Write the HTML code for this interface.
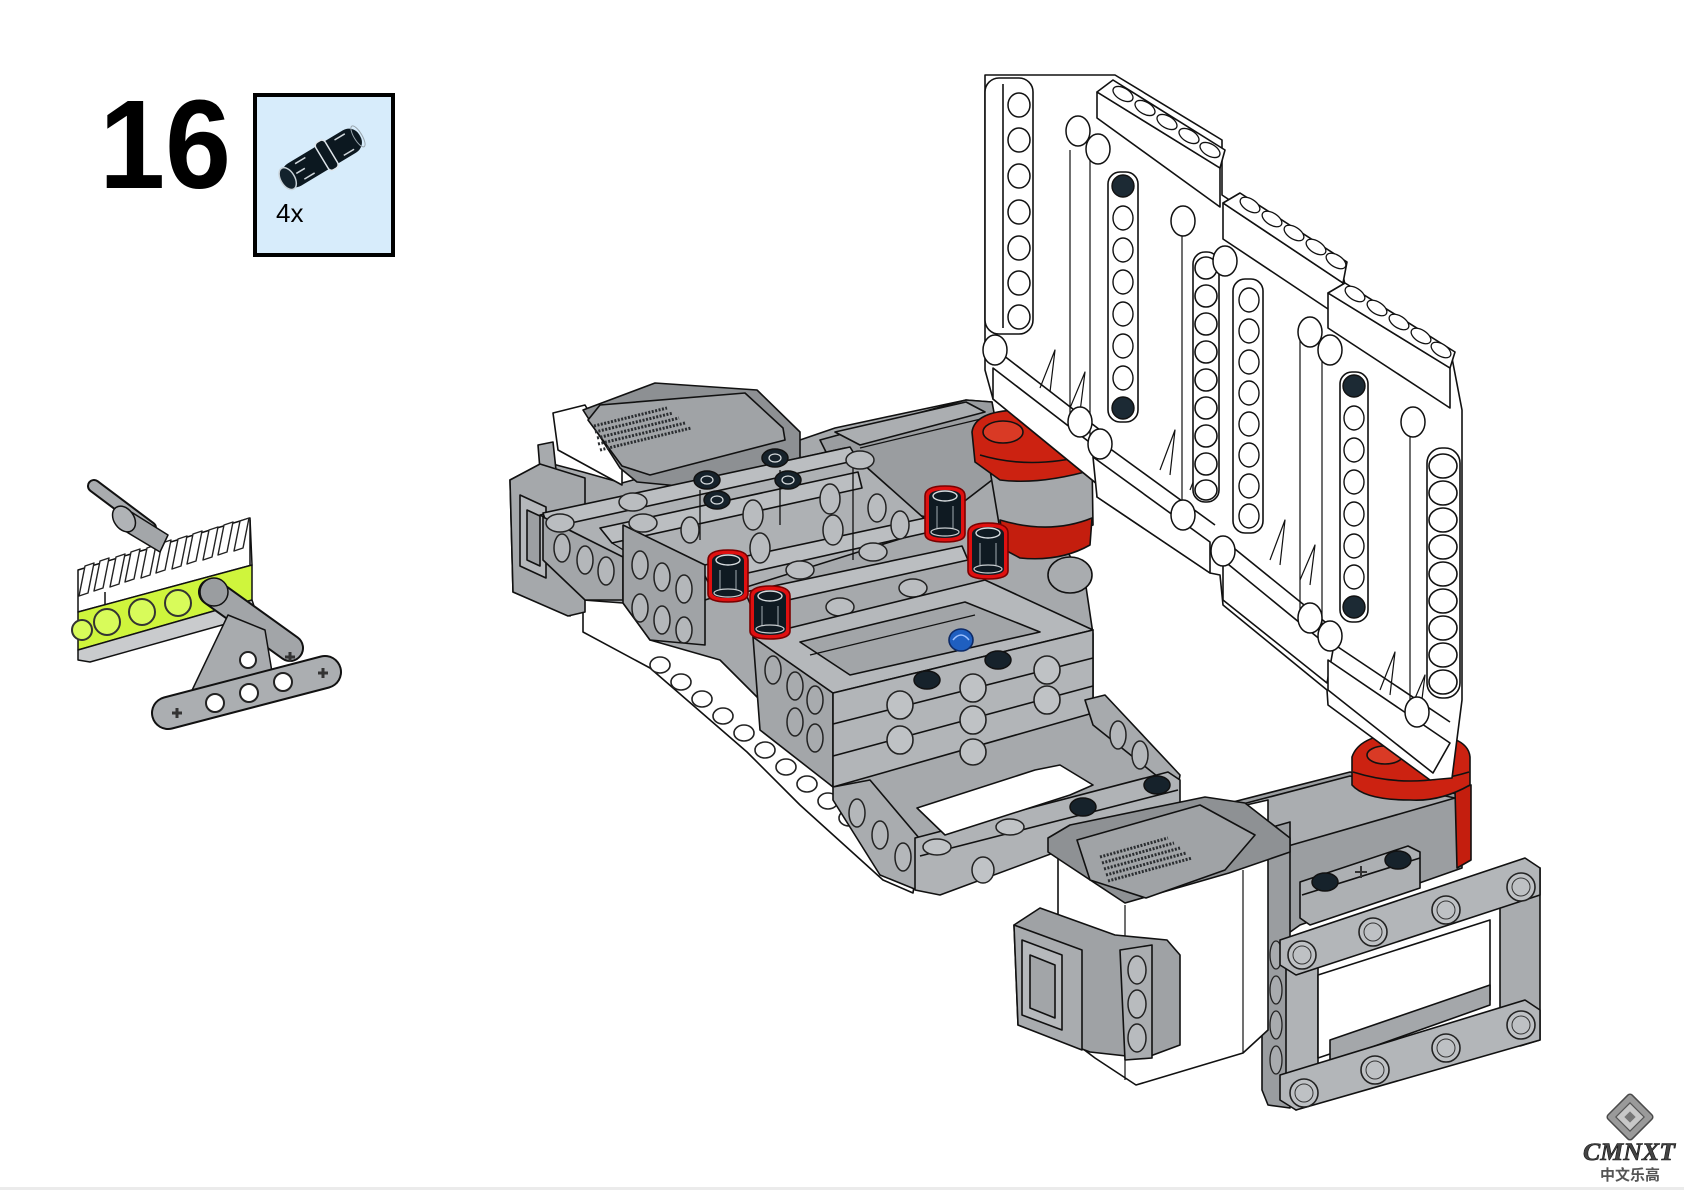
<!DOCTYPE html>
<html><head><meta charset="utf-8">
<style>
html,body{margin:0;padding:0;background:#fff;}
svg{display:block;}
</style></head>
<body>
<svg width="1684" height="1190" viewBox="0 0 1684 1190" xmlns="http://www.w3.org/2000/svg">
<rect width="1684" height="1190" fill="#fff"/>
<rect x="0" y="1187" width="1684" height="3" fill="#ebebeb"/>

<!-- ===== HEADER ===== -->
<text x="-4" y="0" transform="translate(103,188) scale(0.94,1)" font-family="'Liberation Sans', Arial, sans-serif" font-weight="bold" font-size="126" fill="#000">16</text>
<rect x="255" y="95" width="138" height="160" fill="#d7ecfb" stroke="#000" stroke-width="4"/>
<g transform="translate(322,158) rotate(-31)">
  <rect x="-44" y="-13" width="88" height="26" rx="12" fill="#0c1820"/>
  <ellipse cx="-40" cy="0" rx="7" ry="12" fill="#13222c" stroke="#c9d2d8" stroke-width="1.5"/>
  <rect x="0" y="-16" width="11" height="32" rx="4" fill="#0c1820" stroke="#dfe5ea" stroke-width="1.5"/>
  <path d="M-26,-9 L-14,-9 M-26,9 L-14,9 M20,-9 L32,-9 M20,9 L32,9 M-30,0 L-20,0" stroke="#cfd6db" stroke-width="1.5"/>
  <ellipse cx="42" cy="0" rx="4" ry="12" fill="none" stroke="#9aa6ae" stroke-width="1"/>
</g>
<text x="276" y="222" font-family="'Liberation Sans', Arial, sans-serif" font-size="26" fill="#000">4x</text>

<!-- ===== LEFT INSET ===== -->
<g stroke="#111" stroke-width="1.5" stroke-linejoin="round">
  <!-- rack -->
  <polygon points="78,570 250,518 252,565 78,612" fill="#fff"/>
  <g fill="#fff" stroke="#222" stroke-width="1.4">
    <polygon points="85,566 94,563 88,593 79,596"/>
    <polygon points="100,561 109,558 103,588 94,591"/>
    <polygon points="116,557 125,554 119,584 110,587"/>
    <polygon points="131,552 140,549 134,579 125,582"/>
    <polygon points="147,548 156,545 150,575 141,578"/>
    <polygon points="162,543 171,540 165,570 156,573"/>
    <polygon points="178,539 187,536 181,566 172,569"/>
    <polygon points="193,534 202,531 196,561 187,564"/>
    <polygon points="209,530 218,527 212,557 203,560"/>
    <polygon points="224,525 233,522 227,552 218,555"/>
    <polygon points="240,521 249,518 243,548 234,551"/>
  </g>
  <line x1="250" y1="520" x2="250" y2="566"/>
  <line x1="105" y1="592" x2="105" y2="606"/>
  <!-- axle -->
  <line x1="94" y1="486" x2="150" y2="528" stroke="#111" stroke-width="14" stroke-linecap="round"/>
  <line x1="94" y1="486" x2="150" y2="528" stroke="#a9acaf" stroke-width="10" stroke-linecap="round"/>
  <path d="M128,510 L168,535 L160,552 L120,528 Z" fill="#a3a6a9"/>
  <ellipse cx="124" cy="519" rx="10" ry="14" transform="rotate(-35 124 519)" fill="#b0b3b6"/>
  <!-- lime beam -->
  <polygon points="78,612 252,565 252,600 78,650" fill="#cff53c"/>
  <polygon points="78,650 252,600 256,612 240,620 90,662 78,660" fill="#c9cbcd"/>
  <g fill="#d8fb5a" stroke="#333" stroke-width="2">
    <circle cx="107" cy="622" r="13"/>
    <circle cx="142" cy="612" r="13"/>
    <circle cx="178" cy="603" r="13"/>
  </g>
  <circle cx="82" cy="630" r="10" fill="#d8fb5a" stroke="#333" stroke-width="2"/>
  <!-- pin -->
  <line x1="212" y1="592" x2="290" y2="648" stroke="#111" stroke-width="28" stroke-linecap="round"/>
  <line x1="212" y1="592" x2="290" y2="648" stroke="#a2a5a8" stroke-width="24" stroke-linecap="round"/>
  <circle cx="214" cy="592" r="14" fill="#9a9da0"/>
  <!-- triangle liftarm -->
  <polygon points="185,705 228,615 265,630 275,690" fill="#a8abae"/>
  <line x1="168" y1="713" x2="325" y2="672" stroke="#111" stroke-width="34" stroke-linecap="round"/>
  <line x1="168" y1="713" x2="325" y2="672" stroke="#abaeb1" stroke-width="30" stroke-linecap="round"/>
  <g fill="#fff" stroke="#222" stroke-width="2">
    <circle cx="215" cy="703" r="9"/>
    <circle cx="249" cy="693" r="9"/>
    <circle cx="283" cy="682" r="9"/>
    <circle cx="248" cy="660" r="8"/>
  </g>
  <path d="M172,713 h10 M177,708 v10 M318,673 h10 M323,668 v10 M285,657 h10 M290,652 v10" stroke="#333" stroke-width="3"/>
</g>

<!-- ===== MAIN ASSEMBLY ===== -->
<g stroke="#111" stroke-width="1.6" stroke-linejoin="round">

  <!-- long white beam -->
  <polygon points="583,598 625,603 700,640 800,720 920,845 913,893 883,880 800,805 747,752 650,668 583,632" fill="#fff"/>
  <g fill="#fff" stroke="#222" stroke-width="1.6">
    <ellipse cx="660" cy="665" rx="10" ry="8"/>
    <ellipse cx="681" cy="682" rx="10" ry="8"/>
    <ellipse cx="702" cy="699" rx="10" ry="8"/>
    <ellipse cx="723" cy="716" rx="10" ry="8"/>
    <ellipse cx="744" cy="733" rx="10" ry="8"/>
    <ellipse cx="765" cy="750" rx="10" ry="8"/>
    <ellipse cx="786" cy="767" rx="10" ry="8"/>
    <ellipse cx="807" cy="784" rx="10" ry="8"/>
    <ellipse cx="828" cy="801" rx="10" ry="8"/>
    <ellipse cx="849" cy="818" rx="10" ry="8"/>
    <ellipse cx="870" cy="835" rx="10" ry="8"/>
    <ellipse cx="891" cy="852" rx="10" ry="8"/>
  </g>

  <!-- gray backdrop -->
  <polygon points="510,480 545,462 583,472 622,483 700,462 800,440 835,428 966,400 992,402 1000,470 1010,540 1065,548 1085,580 1093,634 1093,713 1177,780 1177,795 937,893 917,890 917,850 833,787 790,750 760,700 720,660 650,640 623,603 583,600 570,616 513,592" fill="#a6a9ac"/>

  <!-- upper motor body -->
  <polygon points="820,440 966,400 992,402 1005,470 940,520 850,500" fill="#9a9da0"/>
  <polygon points="835,432 966,402 985,412 860,445" fill="#abaeb1"/>
  <path d="M860,448 L985,418" fill="none" stroke-width="1.2"/>

  <!-- red upper turntable -->
  <path d="M990,470 L1092,460 L1093,525 Q1050,540 1000,530 Z" fill="#a5a8ab"/>
  <path d="M1000,520 Q1050,535 1092,518 L1090,545 Q1060,562 1020,558 L1005,550 Z" fill="#c41e0e"/>
  <path d="M972,432 Q975,410 1022,410 Q1075,412 1088,440 L1092,470 Q1040,485 1000,480 L975,462 Z" fill="#cc2211"/>
  <ellipse cx="1003" cy="432" rx="20" ry="11" fill="#d93a25"/>
  <path d="M980,455 Q1030,470 1088,455" fill="none"/>

  <!-- lower motor body (right) -->
  <polygon points="1229,803 1350,772 1462,795 1462,868 1300,925 1286,935 1268,935 1268,830" fill="#9b9ea1"/>
  <polygon points="1235,806 1350,776 1455,798 1288,846" fill="#aaadb0"/>
  <!-- red lower turntable -->
  <polygon points="1455,790 1471,785 1471,860 1457,868" fill="#c41e0e"/>
  <path d="M1352,757 Q1360,733 1410,733 Q1468,733 1470,757 L1470,785 Q1440,802 1410,800 Q1365,800 1352,785 Z" fill="#cc2211"/>
  <ellipse cx="1385" cy="755" rx="18" ry="9" fill="#d93a25"/>
  <path d="M1353,772 Q1410,790 1469,772" fill="none"/>
</g>

<!-- ===== WHITE PANELS ===== -->
<g stroke="#111" stroke-width="1.6" stroke-linejoin="round" fill="#fff">
  <polygon points="985,75 1115,75 1222,140 1222,195 1343,275 1345,285 1452,358 1462,410 1462,700 1452,778 1430,780 1328,705 1327,690 1223,605 1220,575 1210,573 1097,497 1097,484 993,399 985,370"/>
  <path d="M1070,150 V430 M1090,160 V440 M1182,235 V510 M1300,330 V620 M1322,345 V640 M1410,420 V710" fill="none" stroke-width="1.2"/>
  <polygon points="993,368 1097,448 1097,484 993,399"/>
  <path d="M1003,355 L1100,430" fill="none"/>
  <polygon points="1097,92 1220,168 1220,207 1097,118"/>
  <polygon points="1097,92 1113,80 1225,150 1220,168"/>
  <g stroke-width="1.3">
    <ellipse cx="1123" cy="94" rx="11" ry="6" transform="rotate(30 1123 94)"/>
    <ellipse cx="1145" cy="108" rx="11" ry="6" transform="rotate(30 1145 108)"/>
    <ellipse cx="1167" cy="122" rx="11" ry="6" transform="rotate(30 1167 122)"/>
    <ellipse cx="1189" cy="136" rx="11" ry="6" transform="rotate(30 1189 136)"/>
    <ellipse cx="1210" cy="150" rx="11" ry="6" transform="rotate(30 1210 150)"/>
  </g>
  <polygon points="1093,457 1210,542 1210,573 1097,497"/>
  <path d="M1105,445 L1215,525" fill="none"/>
  <polygon points="1223,203 1343,283 1343,319 1223,239"/>
  <polygon points="1223,203 1240,193 1347,262 1343,283"/>
  <g stroke-width="1.3">
    <ellipse cx="1250" cy="205" rx="11" ry="6" transform="rotate(32 1250 205)"/>
    <ellipse cx="1272" cy="219" rx="11" ry="6" transform="rotate(32 1272 219)"/>
    <ellipse cx="1294" cy="233" rx="11" ry="6" transform="rotate(32 1294 233)"/>
    <ellipse cx="1316" cy="247" rx="11" ry="6" transform="rotate(32 1316 247)"/>
    <ellipse cx="1336" cy="261" rx="11" ry="6" transform="rotate(32 1336 261)"/>
  </g>
  <polygon points="1223,560 1333,650 1327,683 1223,600"/>
  <path d="M1230,545 L1335,630" fill="none"/>
  <polygon points="1328,293 1450,368 1450,408 1328,328"/>
  <polygon points="1328,293 1345,283 1455,352 1450,368"/>
  <g stroke-width="1.3">
    <ellipse cx="1355" cy="294" rx="11" ry="6" transform="rotate(32 1355 294)"/>
    <ellipse cx="1377" cy="308" rx="11" ry="6" transform="rotate(32 1377 308)"/>
    <ellipse cx="1399" cy="322" rx="11" ry="6" transform="rotate(32 1399 322)"/>
    <ellipse cx="1421" cy="336" rx="11" ry="6" transform="rotate(32 1421 336)"/>
    <ellipse cx="1441" cy="350" rx="11" ry="6" transform="rotate(32 1441 350)"/>
  </g>
  <polygon points="1328,660 1450,743 1433,773 1328,690"/>
  <path d="M1335,645 L1450,722" fill="none"/>
  <path d="M1040,388 L1055,350 L1050,392 M1070,408 L1085,372 L1080,412 M1160,470 L1175,430 L1170,475 M1190,490 L1205,452 L1200,495 M1270,560 L1285,520 L1280,565 M1300,580 L1315,545 L1310,585 M1380,690 L1395,652 L1390,695 M1410,710 L1425,675 L1420,715" fill="none" stroke-width="1.2"/>

  <rect x="985" y="78" width="48" height="256" rx="14"/>
  <line x1="1003" y1="84" x2="1003" y2="328"/>
  <g stroke-width="1.5">
    <ellipse cx="1019" cy="105" rx="11" ry="12"/>
    <ellipse cx="1019" cy="140" rx="11" ry="12"/>
    <ellipse cx="1019" cy="176" rx="11" ry="12"/>
    <ellipse cx="1019" cy="212" rx="11" ry="12"/>
    <ellipse cx="1019" cy="248" rx="11" ry="12"/>
    <ellipse cx="1019" cy="283" rx="11" ry="12"/>
    <ellipse cx="1019" cy="317" rx="11" ry="12"/>
  </g>
  <rect x="1108" y="172" width="30" height="250" rx="12"/>
  <g stroke-width="1.4">
    <circle cx="1123" cy="186" r="11" fill="#1c2a34"/>
    <ellipse cx="1123" cy="218" rx="10" ry="12"/>
    <ellipse cx="1123" cy="250" rx="10" ry="12"/>
    <ellipse cx="1123" cy="282" rx="10" ry="12"/>
    <ellipse cx="1123" cy="314" rx="10" ry="12"/>
    <ellipse cx="1123" cy="346" rx="10" ry="12"/>
    <ellipse cx="1123" cy="378" rx="10" ry="12"/>
    <circle cx="1123" cy="408" r="11" fill="#1c2a34"/>
  </g>
  <rect x="1193" y="252" width="26" height="250" rx="12"/>
  <g stroke-width="1.6">
    <ellipse cx="1206" cy="268" rx="11" ry="11"/>
    <ellipse cx="1206" cy="296" rx="11" ry="11"/>
    <ellipse cx="1206" cy="324" rx="11" ry="11"/>
    <ellipse cx="1206" cy="352" rx="11" ry="11"/>
    <ellipse cx="1206" cy="380" rx="11" ry="11"/>
    <ellipse cx="1206" cy="408" rx="11" ry="11"/>
    <ellipse cx="1206" cy="436" rx="11" ry="11"/>
    <ellipse cx="1206" cy="464" rx="11" ry="11"/>
    <ellipse cx="1206" cy="490" rx="11" ry="10"/>
  </g>
  <rect x="1233" y="279" width="30" height="254" rx="12"/>
  <g stroke-width="1.4">
    <ellipse cx="1249" cy="300" rx="10" ry="12"/>
    <ellipse cx="1249" cy="331" rx="10" ry="12"/>
    <ellipse cx="1249" cy="362" rx="10" ry="12"/>
    <ellipse cx="1249" cy="393" rx="10" ry="12"/>
    <ellipse cx="1249" cy="424" rx="10" ry="12"/>
    <ellipse cx="1249" cy="455" rx="10" ry="12"/>
    <ellipse cx="1249" cy="486" rx="10" ry="12"/>
    <ellipse cx="1249" cy="516" rx="10" ry="12"/>
  </g>
  <rect x="1340" y="372" width="28" height="250" rx="12"/>
  <g stroke-width="1.4">
    <circle cx="1354" cy="386" r="11" fill="#1c2a34"/>
    <ellipse cx="1354" cy="418" rx="10" ry="12"/>
    <ellipse cx="1354" cy="450" rx="10" ry="12"/>
    <ellipse cx="1354" cy="482" rx="10" ry="12"/>
    <ellipse cx="1354" cy="514" rx="10" ry="12"/>
    <ellipse cx="1354" cy="546" rx="10" ry="12"/>
    <ellipse cx="1354" cy="577" rx="10" ry="12"/>
    <circle cx="1354" cy="607" r="11" fill="#1c2a34"/>
  </g>
  <rect x="1427" y="448" width="33" height="250" rx="15"/>
  <g stroke-width="1.6">
    <ellipse cx="1443" cy="466" rx="14" ry="12"/>
    <ellipse cx="1443" cy="493" rx="14" ry="12"/>
    <ellipse cx="1443" cy="520" rx="14" ry="12"/>
    <ellipse cx="1443" cy="547" rx="14" ry="12"/>
    <ellipse cx="1443" cy="574" rx="14" ry="12"/>
    <ellipse cx="1443" cy="601" rx="14" ry="12"/>
    <ellipse cx="1443" cy="628" rx="14" ry="12"/>
    <ellipse cx="1443" cy="655" rx="14" ry="12"/>
    <ellipse cx="1443" cy="682" rx="14" ry="12"/>
  </g>
  <g stroke-width="1.5">
    <ellipse cx="995" cy="350" rx="12" ry="15"/>
    <ellipse cx="1078" cy="131" rx="12" ry="15"/>
    <ellipse cx="1098" cy="149" rx="12" ry="15"/>
    <ellipse cx="1183" cy="221" rx="12" ry="15"/>
    <ellipse cx="1225" cy="261" rx="12" ry="15"/>
    <ellipse cx="1310" cy="332" rx="12" ry="15"/>
    <ellipse cx="1330" cy="350" rx="12" ry="15"/>
    <ellipse cx="1413" cy="422" rx="12" ry="15"/>
    <ellipse cx="1080" cy="422" rx="12" ry="15"/>
    <ellipse cx="1100" cy="444" rx="12" ry="15"/>
    <ellipse cx="1183" cy="515" rx="12" ry="15"/>
    <ellipse cx="1223" cy="551" rx="12" ry="15"/>
    <ellipse cx="1310" cy="618" rx="12" ry="15"/>
    <ellipse cx="1330" cy="636" rx="12" ry="15"/>
    <ellipse cx="1417" cy="712" rx="12" ry="15"/>
  </g>
</g>

<!-- ===== MAIN FRONT PARTS ===== -->
<g stroke="#111" stroke-width="1.6" stroke-linejoin="round">
  <!-- top motor -->
  <polygon points="553,413 585,405 622,468 622,485 558,450" fill="#fff"/>
  <polygon points="583,410 655,383 757,390 800,432 800,458 700,488 637,482 620,468" fill="#8d9093"/>
  <polygon points="588,420 600,405 745,393 783,428 785,440 650,475 622,466" fill="#a0a3a6"/>
  <g stroke="#2a2d30" stroke-width="3" stroke-dasharray="2 1.5">
    <line x1="594" y1="426" x2="667" y2="408"/>
    <line x1="595" y1="432" x2="673" y2="413"/>
    <line x1="597" y1="438" x2="679" y2="418"/>
    <line x1="598" y1="444" x2="685" y2="423"/>
    <line x1="600" y1="450" x2="691" y2="428"/>
  </g>
  <!-- left end block -->
  <polygon points="538,445 553,442 556,470 540,470" fill="#a7aaad"/>
  <polygon points="510,480 540,464 585,478 585,612 568,616 513,592" fill="#a5a8ab"/>
  <polygon points="520,495 546,507 546,578 520,566" fill="#b5b8bb"/>
  <polygon points="527,510 540,516 540,566 527,560" fill="#9c9fa2"/>

  <!-- upper frame (stacked beams) -->
  <polygon points="540,515 845,448 935,528 705,600" fill="#aeb1b4"/>
  <polygon points="543,513 850,447 858,460 548,528" fill="#bbbec1"/>
  <polygon points="600,528 858,472 862,488 612,543" fill="#bbbec1"/>
  <polygon points="700,566 925,518 930,532 708,582" fill="#bbbec1"/>
  <polygon points="745,592 962,546 968,560 752,608" fill="#bbbec1"/>
  <path d="M853,455 V560 M700,490 V540 M780,470 V525 M612,543 L705,600" fill="none" stroke-width="1.3"/>
  <g fill="#b9bcbf" stroke="#222" stroke-width="1.5">
    <ellipse cx="753" cy="515" rx="10" ry="15"/>
    <ellipse cx="830" cy="499" rx="10" ry="15"/>
    <ellipse cx="690" cy="530" rx="9" ry="13"/>
    <ellipse cx="760" cy="548" rx="10" ry="15"/>
    <ellipse cx="833" cy="530" rx="10" ry="15"/>
    <ellipse cx="877" cy="508" rx="9" ry="14"/>
    <ellipse cx="900" cy="525" rx="9" ry="14"/>
  </g>
  <!-- left faces of upper frame -->
  <polygon points="543,517 623,557 623,600 585,600 543,560" fill="#a3a6a9"/>
  <polygon points="623,525 705,565 705,645 650,640 623,603" fill="#a0a3a6"/>
  <g fill="#b4b7ba" stroke="#222" stroke-width="1.5">
    <ellipse cx="562" cy="548" rx="8" ry="14"/>
    <ellipse cx="585" cy="560" rx="8" ry="14"/>
    <ellipse cx="606" cy="571" rx="8" ry="14"/>
    <ellipse cx="640" cy="565" rx="8" ry="14"/>
    <ellipse cx="662" cy="577" rx="8" ry="14"/>
    <ellipse cx="684" cy="589" rx="8" ry="14"/>
    <ellipse cx="640" cy="608" rx="8" ry="14"/>
    <ellipse cx="662" cy="620" rx="8" ry="14"/>
    <ellipse cx="684" cy="630" rx="8" ry="13"/>
  </g>
  <!-- upper holes -->
  <g fill="#babdc0" stroke="#222" stroke-width="1.5">
    <ellipse cx="560" cy="523" rx="14" ry="9"/>
    <ellipse cx="643" cy="523" rx="14" ry="9"/>
    <ellipse cx="633" cy="502" rx="14" ry="9"/>
    <ellipse cx="860" cy="460" rx="14" ry="9"/>
    <ellipse cx="800" cy="570" rx="14" ry="9"/>
    <ellipse cx="873" cy="552" rx="14" ry="9"/>
    <ellipse cx="840" cy="607" rx="14" ry="9"/>
    <ellipse cx="913" cy="588" rx="14" ry="9"/>
  </g>
  <g fill="#16222b" stroke="#111" stroke-width="1.5">
    <ellipse cx="775" cy="458" rx="13" ry="9"/>
    <ellipse cx="707" cy="480" rx="13" ry="9"/>
    <ellipse cx="788" cy="480" rx="13" ry="9"/>
    <ellipse cx="717" cy="500" rx="13" ry="9"/>
  </g>
  <g fill="none" stroke="#d8dde0" stroke-width="1.2">
    <ellipse cx="775" cy="458" rx="6" ry="4"/>
    <ellipse cx="707" cy="480" rx="6" ry="4"/>
    <ellipse cx="788" cy="480" rx="6" ry="4"/>
    <ellipse cx="717" cy="500" rx="6" ry="4"/>
  </g>

  <!-- round beam lump right -->
  <ellipse cx="1070" cy="575" rx="22" ry="18" fill="#a9acaf"/>

  <!-- front stack -->
  <polygon points="753,637 760,730 833,787 833,693" fill="#a3a6a9"/>
  <polygon points="753,637 985,580 1093,630 833,693" fill="#b5b8bb"/>
  <polygon points="800,642 965,602 1040,632 850,675" fill="#a2a5a8"/>
  <path d="M810,655 L975,615" fill="none" stroke-width="1.2"/>
  <polygon points="833,693 1093,630 1093,713 833,787" fill="#b2b5b8"/>
  <path d="M833,724 L1093,658 M833,756 L1093,686" fill="none"/>
  <g fill="#a8abae" stroke="#222" stroke-width="1.5">
    <ellipse cx="773" cy="670" rx="8" ry="14"/>
    <ellipse cx="795" cy="686" rx="8" ry="14"/>
    <ellipse cx="815" cy="700" rx="8" ry="14"/>
    <ellipse cx="795" cy="722" rx="8" ry="14"/>
    <ellipse cx="815" cy="738" rx="8" ry="14"/>
  </g>
  <g fill="#bfc2c5" stroke="#222" stroke-width="1.6">
    <ellipse cx="900" cy="705" rx="13" ry="14"/>
    <ellipse cx="973" cy="688" rx="13" ry="14"/>
    <ellipse cx="1047" cy="670" rx="13" ry="14"/>
    <ellipse cx="900" cy="740" rx="13" ry="14"/>
    <ellipse cx="973" cy="720" rx="13" ry="14"/>
    <ellipse cx="1047" cy="700" rx="13" ry="14"/>
    <ellipse cx="973" cy="752" rx="13" ry="13"/>
  </g>
  <g fill="#16222b" stroke="#111" stroke-width="1.5">
    <ellipse cx="927" cy="680" rx="13" ry="9"/>
    <ellipse cx="998" cy="660" rx="13" ry="9"/>
  </g>
  <ellipse cx="961" cy="640" rx="12" ry="11" fill="#1f5fc0" stroke="#0d2a66"/>
  <path d="M953,640 Q961,630 969,640" fill="none" stroke="#9cc0ff" stroke-width="1.5"/>

  <!-- lower frame -->
  <polygon points="1085,700 1105,695 1180,775 1177,792 1093,725" fill="#a7aaad"/>
  <polygon points="833,787 870,780 925,845 917,890 880,875 833,800" fill="#a9acaf"/>
  <g fill="#b4b7ba" stroke="#222" stroke-width="1.5">
    <ellipse cx="857" cy="813" rx="8" ry="14"/>
    <ellipse cx="880" cy="835" rx="8" ry="14"/>
    <ellipse cx="903" cy="857" rx="8" ry="14"/>
    <ellipse cx="1118" cy="735" rx="8" ry="14"/>
    <ellipse cx="1140" cy="755" rx="8" ry="14"/>
  </g>
  <polygon points="915,838 1168,772 1180,780 1180,806 940,895 915,890" fill="#b0b3b6"/>
  <path d="M920,856 L1178,790" fill="none"/>
  <polygon points="917,808 1035,770 1060,765 1093,785 1070,795 945,835" fill="#fff"/>
  <g fill="#c0c3c6" stroke="#222" stroke-width="1.5">
    <ellipse cx="937" cy="847" rx="14" ry="8"/>
    <ellipse cx="1010" cy="827" rx="14" ry="8"/>
    <ellipse cx="983" cy="870" rx="11" ry="13"/>
  </g>
  <g fill="#16222b" stroke="#111" stroke-width="1.5">
    <ellipse cx="1083" cy="807" rx="13" ry="9"/>
    <ellipse cx="1157" cy="785" rx="13" ry="9"/>
  </g>

  <!-- red/black pins -->
  <g>
    <path d="M708,560 Q708,550 728,550 Q748,550 748,560 L748,594 Q748,602 728,602 Q708,602 708,594 Z" fill="#e01010" stroke="#7a0000"/>
    <path d="M712,561 Q712,554 728,554 Q744,554 744,561 L744,592 Q744,598 728,598 Q712,598 712,592 Z" fill="#0f1a22" stroke="none"/>
    <ellipse cx="728" cy="560" rx="12" ry="5" fill="none" stroke="#d8dde0" stroke-width="1.4"/>
    <path d="M720,570 V590 M736,570 V590" stroke="#8a949a" stroke-width="1.2"/>
    <ellipse cx="728" cy="593" rx="14" ry="4" fill="none" stroke="#c8cdd0" stroke-width="1.2"/>
  </g>
  <g>
    <path d="M750,596 Q750,586 770,586 Q790,586 790,596 L790,631 Q790,639 770,639 Q750,639 750,631 Z" fill="#e01010" stroke="#7a0000"/>
    <path d="M754,597 Q754,590 770,590 Q786,590 786,597 L786,629 Q786,635 770,635 Q754,635 754,629 Z" fill="#0f1a22" stroke="none"/>
    <ellipse cx="770" cy="596" rx="12" ry="5" fill="none" stroke="#d8dde0" stroke-width="1.4"/>
    <path d="M762,606 V626 M778,606 V626" stroke="#8a949a" stroke-width="1.2"/>
    <ellipse cx="770" cy="629" rx="14" ry="4" fill="none" stroke="#c8cdd0" stroke-width="1.2"/>
  </g>
  <g>
    <path d="M925,496 Q925,486 945,486 Q965,486 965,496 L965,534 Q965,542 945,542 Q925,542 925,534 Z" fill="#e01010" stroke="#7a0000"/>
    <path d="M929,497 Q929,490 945,490 Q961,490 961,497 L961,532 Q961,538 945,538 Q929,538 929,532 Z" fill="#0f1a22" stroke="none"/>
    <ellipse cx="945" cy="496" rx="12" ry="5" fill="none" stroke="#d8dde0" stroke-width="1.4"/>
    <path d="M937,506 V528 M953,506 V528" stroke="#8a949a" stroke-width="1.2"/>
    <ellipse cx="945" cy="532" rx="14" ry="4" fill="none" stroke="#c8cdd0" stroke-width="1.2"/>
  </g>
  <g>
    <path d="M968,533 Q968,523 988,523 Q1008,523 1008,533 L1008,571 Q1008,579 988,579 Q968,579 968,571 Z" fill="#e01010" stroke="#7a0000"/>
    <path d="M972,534 Q972,527 988,527 Q1004,527 1004,534 L1004,569 Q1004,575 988,575 Q972,575 972,569 Z" fill="#0f1a22" stroke="none"/>
    <ellipse cx="988" cy="533" rx="12" ry="5" fill="none" stroke="#d8dde0" stroke-width="1.4"/>
    <path d="M980,543 V565 M996,543 V565" stroke="#8a949a" stroke-width="1.2"/>
    <ellipse cx="988" cy="569" rx="14" ry="4" fill="none" stroke="#c8cdd0" stroke-width="1.2"/>
  </g>

  <!-- ===== LOWER RIGHT ===== -->
  <polygon points="1262,830 1290,822 1290,1108 1268,1105 1262,1090" fill="#9a9da0"/>
  <g fill="#a8abae" stroke="#222" stroke-width="1.3">
    <ellipse cx="1276" cy="955" rx="6" ry="14"/>
    <ellipse cx="1276" cy="990" rx="6" ry="14"/>
    <ellipse cx="1276" cy="1025" rx="6" ry="14"/>
    <ellipse cx="1276" cy="1060" rx="6" ry="14"/>
  </g>
  <polygon points="1500,880 1540,868 1540,1040 1520,1046 1500,1032" fill="#a9acaf"/>
  <polygon points="1286,940 1318,935 1318,1100 1296,1110 1286,1100" fill="#b0b3b6"/>
  <polygon points="1318,975 1490,920 1490,1000 1318,1058" fill="#fff"/>
  <polygon points="1330,1040 1490,985 1490,1005 1330,1062" fill="#a4a7aa"/>
  <polygon points="1280,940 1525,858 1540,868 1540,895 1296,975 1280,965" fill="#b3b6b9"/>
  <polygon points="1280,1075 1525,1000 1540,1010 1540,1040 1296,1110 1280,1100" fill="#b3b6b9"/>
  <g fill="#bec1c4" stroke="#222" stroke-width="1.6">
    <circle cx="1302" cy="955" r="14"/>
    <circle cx="1373" cy="932" r="14"/>
    <circle cx="1446" cy="910" r="14"/>
    <circle cx="1521" cy="887" r="14"/>
    <circle cx="1304" cy="1093" r="14"/>
    <circle cx="1375" cy="1070" r="14"/>
    <circle cx="1446" cy="1048" r="14"/>
    <circle cx="1521" cy="1025" r="14"/>
  </g>
  <g fill="none" stroke="#333" stroke-width="1">
    <circle cx="1302" cy="955" r="9"/>
    <circle cx="1373" cy="932" r="9"/>
    <circle cx="1446" cy="910" r="9"/>
    <circle cx="1521" cy="887" r="9"/>
    <circle cx="1304" cy="1093" r="9"/>
    <circle cx="1375" cy="1070" r="9"/>
    <circle cx="1446" cy="1048" r="9"/>
    <circle cx="1521" cy="1025" r="9"/>
  </g>
  <polygon points="1300,882 1408,846 1420,852 1420,888 1310,925 1300,918" fill="#adb0b3"/>
  <path d="M1302,895 L1420,858" fill="none"/>
  <g fill="#16222b" stroke="#111" stroke-width="1.5">
    <ellipse cx="1325" cy="882" rx="13" ry="9"/>
    <ellipse cx="1398" cy="860" rx="13" ry="9"/>
  </g>
  <path d="M1355,872 h12 M1361,866 v12" stroke="#333" stroke-width="2"/>

  <!-- lower motor white body -->
  <polygon points="1058,848 1268,800 1268,1030 1243,1053 1136,1085 1095,1058 1058,1030" fill="#fff"/>
  <path d="M1243,870 V1053 M1125,905 V1080" fill="none" stroke-width="1.2"/>
  <polygon points="1048,838 1070,825 1205,797 1245,803 1290,838 1290,852 1229,873 1125,903 1063,862 1048,852" fill="#8e9194"/>
  <polygon points="1077,840 1200,805 1255,835 1225,870 1146,898 1090,880" fill="#a0a3a6"/>
  <g stroke="#2a2d30" stroke-width="3" stroke-dasharray="2 1.5">
    <line x1="1100" y1="857" x2="1168" y2="838"/>
    <line x1="1102" y1="863" x2="1174" y2="843"/>
    <line x1="1104" y1="869" x2="1180" y2="848"/>
    <line x1="1106" y1="875" x2="1186" y2="853"/>
    <line x1="1108" y1="881" x2="1192" y2="858"/>
  </g>
  <polygon points="1014,925 1040,908 1115,935 1167,940 1180,955 1180,1045 1145,1058 1090,1052 1018,1025" fill="#9fa2a5"/>
  <polygon points="1014,925 1082,950 1082,1050 1018,1025" fill="#a9acaf"/>
  <polygon points="1022,940 1062,955 1062,1030 1022,1015" fill="#b6b9bc"/>
  <polygon points="1030,955 1055,965 1055,1018 1030,1008" fill="#a2a5a8"/>
  <polygon points="1120,950 1152,945 1152,1058 1125,1060" fill="#aaadb0"/>
  <g fill="#b8bbbe" stroke="#222" stroke-width="1.5">
    <ellipse cx="1137" cy="970" rx="9" ry="14"/>
    <ellipse cx="1137" cy="1004" rx="9" ry="14"/>
    <ellipse cx="1137" cy="1038" rx="9" ry="14"/>
  </g>
</g>

<!-- ===== LOGO ===== -->
<g transform="translate(1630,1117) rotate(45)">
  <rect x="-17" y="-17" width="34" height="34" rx="3" fill="#9a9a9a" stroke="#4a4a4a" stroke-width="1.5"/>
  <rect x="-10" y="-10" width="20" height="20" fill="#c8c8c8" stroke="#555" stroke-width="1.2"/>
  <rect x="-4" y="-4" width="8" height="8" fill="#777"/>
</g>
<text x="1583" y="1160" font-family="'Liberation Serif', serif" font-weight="bold" font-style="italic" font-size="25" fill="#444" stroke="#111" stroke-width="0.6" textLength="92" lengthAdjust="spacingAndGlyphs">CMNXT</text>
<text x="1600" y="1180" font-family="'Liberation Sans', 'Noto Sans CJK SC', sans-serif" font-weight="bold" font-size="15" fill="#555" textLength="60" lengthAdjust="spacingAndGlyphs">中文乐高</text>
</svg>
</body></html>
